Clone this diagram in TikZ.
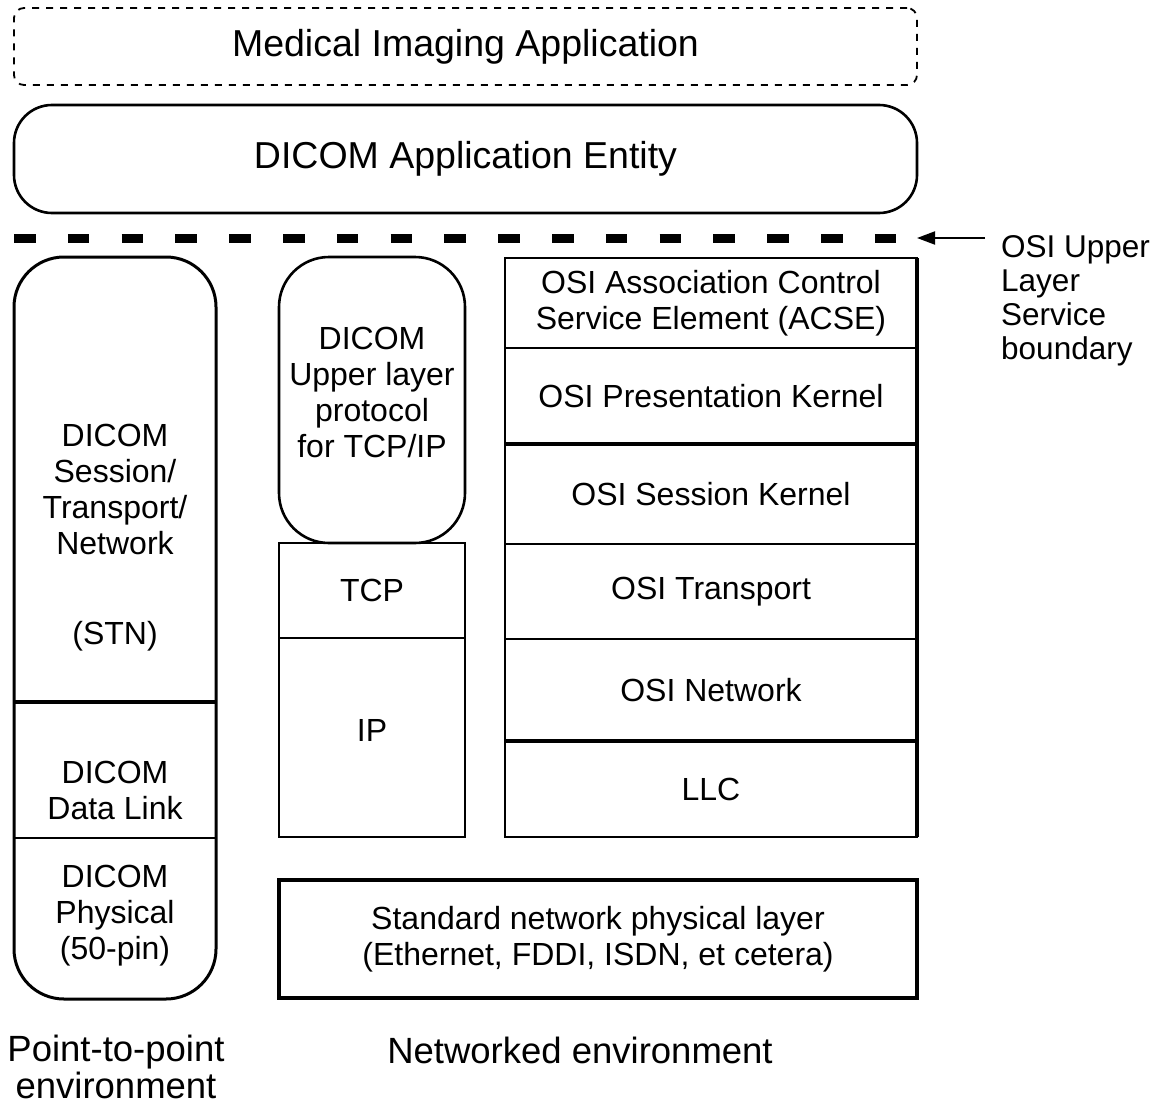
\documentclass[tikz,border=0pt]{standalone}
\usepackage{fontspec}
\setmainfont{Liberation Sans}
\usetikzlibrary{arrows.meta}
\begin{document}
\begin{tikzpicture}[x=1pt,y=-1pt,
  lay/.style={draw, line width=2.6pt, inner sep=0pt, outer sep=0pt, align=center,
              font=\fontsize{32}{36}\selectfont},
  txt/.style={inner sep=0pt, align=center, font=\fontsize{32}{36}\selectfont},
  bigtxt/.style={font=\fontsize{37.5}{40}\selectfont},
  lbl/.style={inner sep=0pt, align=center, font=\fontsize{36.5}{37}\selectfont},
  thickdiv/.style={line width=4.5pt}]
\useasboundingbox[fill=white] (0,0) rectangle (1159,1108);

% top boxes
\node[lay, bigtxt, line width=1.8pt, dash pattern=on 7pt off 7pt, rounded corners=10pt,
      minimum width=903pt, minimum height=77pt] (mia) at (465.5,46.5) {Medical Imaging Application};
\node[lay, bigtxt, rounded corners=38pt, minimum width=903pt, minimum height=108pt]
      (ae) at (465.5,159) {DICOM Application Entity};

% service boundary
\coordinate (bl) at (14,238);
\coordinate (br) at (896,238);
\draw[line width=9pt, dash pattern=on 21.5pt off 32.3pt] (bl) -- (br);
\node[anchor=west, align=left, inner sep=0pt, font=\fontsize{31.5}{34}\selectfont]
      (osi) at (1001,301) {OSI Upper\\Layer\\Service\\boundary};
\coordinate (as) at (985,238);
\coordinate (ah) at (917,238);
\draw[line width=2pt, -{Triangle[length=18pt,width=13pt]}] (as) -- (ah);

% point-to-point column
\node[lay, line width=3pt, rounded corners=50pt, minimum width=202pt, minimum height=742pt]
      (ptp) at (115,628) {};
\draw[thickdiv] (ptp.west |- 0,702) -- (ptp.east |- 0,702);
\draw[line width=2.6pt] (ptp.west |- 0,838) -- (ptp.east |- 0,838);
\node[txt] (stn) at (115,489) {DICOM\\Session/\\Transport/\\Network};
\node[txt] (stnb) at (115,636) {(STN)};
\node[txt] (dl) at (115,790) {DICOM\\Data Link};
\node[txt] (phy) at (115,916) {DICOM\\Physical\\(50-pin)};

% TCP/IP column
\node[lay, rounded corners=50pt, minimum width=186pt, minimum height=286pt] (ulp) at (372,400) {};
\node[txt] (ulpt) at (372,392) {DICOM\\Upper layer\\protocol\\for TCP/IP};
\node[lay, minimum width=186pt, minimum height=95pt] (tcp) at (372,590.5) {TCP};
\node[lay, minimum width=186pt, minimum height=199pt] (ip) at (372,737.5) {};
\node[txt] (ipt) at (372,730) {IP};

% OSI column
\node[lay, minimum width=412pt, minimum height=90pt] (acse) at (711,303) {OSI Association Control\\Service Element (ACSE)};
\node[lay, minimum width=412pt, minimum height=96pt] (pres) at (711,396) {OSI Presentation Kernel};
\node[lay, minimum width=412pt, minimum height=100pt] (sess) at (711,494) {OSI Session Kernel};
\node[lay, minimum width=412pt, minimum height=95pt] (trans) at (711,591.5) {OSI Transport};
\node[lay, minimum width=412pt, minimum height=102pt] (net) at (711,690) {OSI Network};
\node[lay, minimum width=412pt, minimum height=96pt] (llc) at (711,789) {LLC};
\draw[thickdiv] (pres.south west) -- (pres.south east);
\draw[thickdiv] (net.south west) -- (net.south east);
\draw[line width=3.2pt] (acse.north east) -- (llc.south east);

% physical layer
\node[lay, line width=3.2pt, minimum width=638pt, minimum height=118pt] (std) at (598,939)
      {Standard network physical layer\\(Ethernet, FDDI, ISDN, et cetera)};

% bottom labels
\node[lbl] (ptpl) at (116,1067) {Point-to-point\\environment};
\node[lbl] (netl) at (580,1050) {Networked environment};
\end{tikzpicture}
\end{document}
